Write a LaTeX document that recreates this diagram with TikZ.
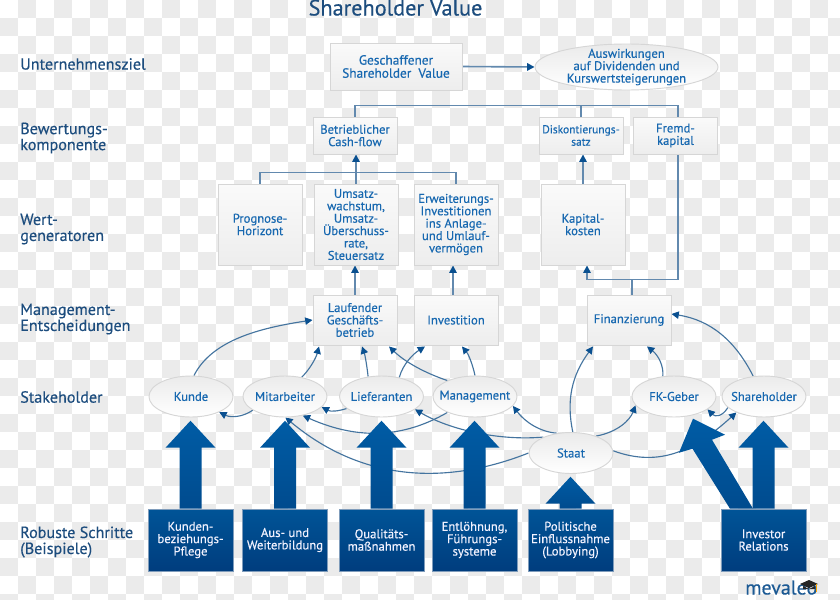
\documentclass[tikz,border=0pt]{standalone}
\usepackage{fontspec}
\setmainfont[RawFeature={embolden=0.35}]{PT Sans}
\usetikzlibrary{arrows.meta,shapes.geometric,calc}
\definecolor{tile}{HTML}{EBEBEB}
\definecolor{headline}{HTML}{1D4D7E}
\definecolor{inktext}{HTML}{1768B0}
\definecolor{linkcol}{HTML}{44749F}
\definecolor{buscol}{HTML}{6289AE}
\definecolor{tipcol}{HTML}{0A5090}
\definecolor{tdark}{HTML}{005497}
\definecolor{tlow}{HTML}{003D7E}
\definecolor{thead}{HTML}{005CA5}
\definecolor{shaftlow}{HTML}{004B8E}
\definecolor{actionedge}{HTML}{7F9CBB}
\definecolor{logocol}{HTML}{1C5A94}
\pgfdeclarelayer{tiles}
\pgfdeclarelayer{links}
\pgfdeclarelayer{blocks}
\pgfsetlayers{tiles,links,blocks,main}
\tikzset{
  panel/.style={rectangle,draw=black!16,line width=0.7pt,top color=white!98!black,bottom color=black!7,
    inner sep=0pt,minimum width=63pt,align=center,text=inktext,font=\fontsize{9.5}{9.3}\selectfont},
  oval/.style={ellipse,draw=black!16,line width=0.7pt,top color=black!8,bottom color=white,
    inner sep=0pt,minimum width=63pt,minimum height=30.75pt},
  ovaltext/.style={align=center,text=inktext,font=\fontsize{9.5}{9.3}\selectfont,inner sep=0pt},
  action/.style={rectangle,draw=actionedge,line width=0.4pt,top color=tdark,bottom color=tlow,
    inner sep=0pt,minimum width=63.5pt,minimum height=46.5pt,align=center,text=white!95!blue,
    font=\fontsize{9.5}{9.3}\selectfont},
  rowlabel/.style={anchor=west,align=left,inner sep=0pt,text=headline,font=\fontsize{12.1}{12}\selectfont},
  link/.style={draw=linkcol,line width=0.85pt,-{Triangle[width=5.5pt,length=5.5pt,color=tipcol]}},
  bus/.style={draw=buscol,line width=1.2pt},
  busarrow/.style={bus,-{Triangle[width=5.5pt,length=5.5pt,color=tipcol]}},
  blockfill/.style={top color=thead,bottom color=shaftlow,draw=none}
}
% Upward block arrow standing on a box: shaft rise, then a 27 px tall head
\newcommand{\blockup}[2]{%
  \shade[blockfill] (#1.north) ++(-11,0) -- ++(0,-#2) -- ++(-14,0) -- ++(25,-27) -- ++(25,27) -- ++(-14,0) -- ++(0,#2) -- cycle;}
\begin{document}
\begin{tikzpicture}[x=0.75pt,y=-0.75pt]
\useasboundingbox (0,0) rectangle (840,600);
\clip (0,0) rectangle (840,600);

% Checker tiles behind everything
\begin{pgfonlayer}{tiles}
  \fill[white] (0,0) rectangle (840,600);
  \foreach \i in {0,...,46}{\foreach \j in {0,...,33}{
    \pgfmathtruncatemacro{\odd}{mod(\i+\j,2)}
    \ifnum\odd=1 \fill[tile] (18*\i,18*\j) rectangle ++(18,18);\fi
  }}
\end{pgfonlayer}

% Title and row labels
\node[anchor=base,inner sep=0pt,text=headline,font=\fontsize{16.7}{17}\selectfont] (title) at (395.5,15.5) {Shareholder Value};
\node[rowlabel] (r1) at (20,64) {Unternehmensziel};
\node[rowlabel] (r2) at (20,138) {Bewertungs-\\komponente};
\node[rowlabel] (r3) at (20,229) {Wert-\\generatoren};
\node[rowlabel] (r4) at (20,319) {Management-\\Entscheidungen};
\node[rowlabel] (r5) at (20,397) {Stakeholder};
\node[rowlabel] (r6) at (20,542) {Robuste Schritte\\(Beispiele)};

% Goal row
\node[panel,minimum width=99pt,minimum height=35.25pt,font=\fontsize{10}{9.8}\selectfont] (ziel) at (396,66.5) {Geschaffener\\Shareholder\ \ Value};
\node[oval,minimum width=137.25pt,minimum height=34.5pt,
  label={[ovaltext]center:Auswirkungen\\auf Dividenden und\\Kurswertsteigerungen}] (aus) at (626.5,67) {};

% Valuation components
\node[panel,minimum height=27.75pt] (bet) at (355,135.5) {Betrieblicher\\Cash-flow};
\node[panel,minimum height=27.75pt,font=\fontsize{8.6}{9.3}\selectfont] (dis) at (581,135.5) {Diskontierungs-\\satz};
\node[panel,minimum height=27.75pt] (frem) at (675.5,135.5) {Fremd-\\kapital};

% Value generators
\node[panel,minimum height=60.75pt] (prog) at (260,224.5) {Prognose-\\Horizont};
\node[panel,minimum height=60.75pt] (ums) at (356,224.5) {Umsatz-\\wachstum,\\Umsatz-\\Überschuss-\\rate,\\Steuersatz};
\node[panel,minimum height=60.75pt] (erw) at (456,224.5) {Erweiterungs-\\Investitionen\\ins Anlage-\\und Umlauf-\\vermögen};
\node[panel,minimum height=60.75pt] (kap) at (583,224.5) {Kapital-\\kosten};

% Management decisions
\node[panel,minimum height=37.5pt] (lauf) at (355,320) {Laufender\\Geschäfts-\\betrieb};
\node[panel,minimum height=37.5pt] (inv) at (456,320) {Investition};
\node[panel,minimum height=37.5pt] (fin) at (629,320) {Finanzierung};

% Stakeholders
\node[oval,label={[ovaltext]center:Kunde}] (kunde) at (191,396.5) {};
\node[oval,label={[ovaltext]center:Mitarbeiter}] (mit) at (285,396.5) {};
\node[oval,label={[ovaltext]center:Lieferanten}] (lief) at (381.5,396.5) {};
\node[oval,label={[ovaltext]center:Management}] (mgmt) at (475,396.5) {};
\node[oval,label={[ovaltext]center:FK-Geber}] (fk) at (674,396.5) {};
\node[oval,label={[ovaltext]center:Shareholder}] (share) at (764,396.5) {};
\node[oval,label={[ovaltext]center:Staat}] (staat) at (571,453) {};

% Measures
\node[action] (a1) at (190.5,540) {Kunden-\\beziehungs-\\Pflege};
\node[action] (a2) at (285,540) {Aus- und\\Weiterbildung};
\node[action] (a3) at (381.5,540) {Qualitäts-\\maßnahmen};
\node[action] (a4) at (474.5,540) {Entlöhnung,\\Führungs-\\systeme};
\node[action] (a5) at (570.5,540) {Politische\\Einflussnahme\\(Lobbying)};
\node[action] (a6) at (763.5,540) {Investor\\Relations};

% Logo
\node[anchor=base west,inner sep=0pt,text=logocol,font=\fontsize{15}{15}\selectfont] (logo) at (745,594.5) {mevaleo};

% Block arrows from measures up to stakeholders
\begin{pgfonlayer}{blocks}
  \blockup{a1}{61}
  \blockup{a2}{61}
  \blockup{a3}{61}
  \blockup{a4}{61}
  \blockup{a5}{5}
  \blockup{a6}{61}
  \shade[blockfill] (a6.north) ++(-33.5,0) -- ++(-37.5,-60) -- ++(-13.5,4) -- ++(14,-34) -- ++(32,16) -- ++(-13,5) -- ++(41,69) -- cycle;
\end{pgfonlayer}

% Mortarboard on the logo
\fill[black!85] (800,584) -- (809,580) -- (818,584) -- (809,588) -- cycle;
\fill[black!85] (803,586) -- (809,589) -- (815,586) -- (815,589) -- (803,589) -- cycle;
\draw[orange!70!yellow,line width=0.7pt] (816.5,584) -- (816.5,592);

% Connectors
\begin{pgfonlayer}{links}
  \draw[busarrow] (ziel.east) -- (aus.west);
  \draw[bus] (bet.north) -- ++(0,-11) -| ([shift={(2.5,0)}]frem.north);
  \draw[bus] (dis.north) -- ++(0,-11);
  \draw[bus] (prog.north) -- ++(0,-11) -| (erw.north);
  \draw[busarrow] (ums.north) -- (ums.north |- bet.south);
  \draw[busarrow] (lauf.north) -- (lauf.north |- ums.south);
  \draw[busarrow] ([shift={(-3,0)}]inv.north) -- ([shift={(-3,0)}]inv.north |- erw.south);
  \draw[busarrow] (kap.north) -- (kap.north |- dis.south);
  \coordinate (kapfoot) at ([shift={(4,14)}]kap.south);
  \draw[busarrow] ([shift={(2.5,0)}]frem.south) |- (kapfoot) -- ([shift={(4,0)}]kap.south);
  \draw[bus] ([shift={(3,0)}]fin.north) -- ([shift={(3,0)}]fin.north |- kapfoot);

  \draw[link] (kunde.82) .. controls (212,340) and (260,328) .. (lauf.west);
  \draw[link] (mit.49) .. controls (310,369) and (316,358) .. ([shift={(-36,1)}]lauf.south);
  \draw[link] (lief.124) .. controls (367,366) and (365,355) .. ([shift={(7,1)}]lauf.south);
  \draw[link] (mgmt.150) .. controls (425,373) and (405,362) .. ([shift={(34,1)}]lauf.south);
  \draw[link] (lief.47) .. controls (403,364) and (413,354) .. ([shift={(-31,1)}]inv.south);
  \draw[link] (mgmt.90) .. controls (473,366) and (469,355) .. ([shift={(6,1)}]inv.south);
  \draw[link] (mit.203) .. controls (243,417) and (231,418) .. (kunde.331);
  \draw[link] (lief.199) .. controls (339,411) and (331,412) .. (mit.344);
  \draw[link] (mgmt.210) .. controls (405,437) and (360,441) .. (mit.313);
  \draw[link] (staat.150) .. controls (500,441) and (450,430) .. (lief.339);
  \draw[link] (staat.125) .. controls (540,432) and (525,422) .. (mgmt.346);
  \draw[link] (staat.180) .. controls (450,484) and (365,484) .. (mit.271);
  \draw[link] (staat.85) .. controls (566,400) and (572,375) .. ([shift={(-36,1)}]fin.south);
  \draw[link] (staat.34) .. controls (618,432) and (630,420) .. (fk.193);
  \draw[link] (fk.119) .. controls (664,366) and (658,355) .. ([shift={(18,1)}]fin.south);
  \draw[link] (share.118) .. controls (735,340) and (710,320) .. ([shift={(0,-6)}]fin.east);
  \draw[link] (share.197) .. controls (722,417) and (715,417) .. (fk.339);
  \draw[link] (staat.3) .. controls (660,468) and (695,450) .. (share.210);
\end{pgfonlayer}
\end{tikzpicture}
\end{document}
